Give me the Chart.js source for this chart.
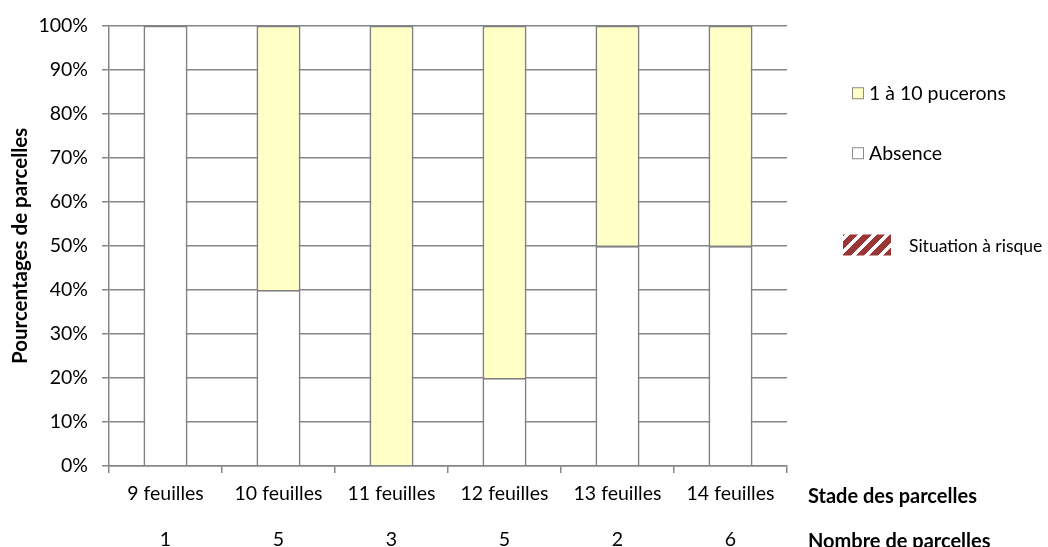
<!DOCTYPE html>
<html>
<head>
<meta charset="utf-8">
<script src="https://cdn.jsdelivr.net/npm/chart.js@4"></script>
<style>
  html, body { margin: 0; padding: 0; background: #fff; }
  #wrap { position: relative; width: 1048px; height: 547px; font-family: Lato, "Noto Sans", sans-serif; color: #000; }
  #wrap canvas { position: absolute; left: 0; top: 0; }
  .lab { position: absolute; white-space: nowrap; line-height: 1; transform: translateY(-50%); }
  .bold { font-weight: bold; font-size: 20px; }
  #legend { position: absolute; left: 0; top: 0; font-size: 19.5px; }
  #legend .item { position: absolute; white-space: nowrap; display: flex; align-items: center; transform: translateY(-50%); line-height: 1; }
  #legend .box { display: inline-block; width: 10px; height: 10px; border: 1px solid #8a8a8a; margin-right: 5px; }
  #legend .hatch { display: block; flex: none; width: 48px; height: 21px; margin-right: 18px; }
</style>
</head>
<body>
<div id="wrap">
  <canvas id="chart" width="1048" height="547"></canvas>
  <div class="lab bold" style="left:808px; top:495px;">Stade des parcelles</div>
  <div class="lab bold" style="left:808px; top:540px;">Nombre de parcelles</div>
  <div id="legend"></div>
</div>
<script>
// Données
const stades = ['9 feuilles', '10 feuilles', '11 feuilles', '12 feuilles', '13 feuilles', '14 feuilles'];
const nbParcelles = ['1', '5', '3', '5', '2', '6'];
const absence = [100, 40, 0, 20, 50, 50];
const pucerons = [0, 60, 100, 80, 50, 50];
const risque = [0, 0, 0, 0, 0, 0];
const yTicks = [0, 10, 20, 30, 40, 50, 60, 70, 80, 90, 100];

const gridColor = '#868686';
const hatchColor = '#9b3636';

// motif hachuré pour "Situation à risque"
function makeHatch() {
  const c = document.createElement('canvas');
  c.width = 12; c.height = 12;
  const g = c.getContext('2d');
  g.fillStyle = '#fff';
  g.fillRect(0, 0, 12, 12);
  g.strokeStyle = hatchColor;
  g.lineWidth = 6;
  g.beginPath();
  for (let k = -12; k <= 24; k += 12) {
    g.moveTo(k, 12); g.lineTo(k + 12, 0);
  }
  g.stroke();
  return g.createPattern(c, 'repeat');
}

const ctx = document.getElementById('chart').getContext('2d');
const chart = new Chart(ctx, {
  type: 'bar',
  data: {
    labels: stades.map((s, i) => [s, nbParcelles[i]]),
    datasets: [
      { label: 'Absence', data: absence, backgroundColor: '#ffffff', borderColor: '#808080', borderWidth: 1.8, order: 1 },
      { label: '1 à 10 pucerons', data: pucerons, backgroundColor: '#ffffc6', borderColor: '#808080', borderWidth: 1.8, order: 2 },
      { label: 'Situation à risque', data: risque, backgroundColor: makeHatch(), borderWidth: 0, order: 3 }
    ]
  },
  options: {
    responsive: false,
    animation: false,
    layout: { padding: { left: 8, right: 261, top: 18, bottom: 0 } },
    plugins: {
      legend: { display: false },
      tooltip: { enabled: false }
    },
    datasets: { bar: { categoryPercentage: 1, barPercentage: 0.39 } },
    scales: {
      x: {
        stacked: true,
        offset: true,
        grid: { drawOnChartArea: false, color: gridColor, tickLength: 7, lineWidth: 1.5 },
        border: { color: gridColor, width: 1.5 },
        ticks: { color: '#000', font: { family: 'Lato', size: 19.5, lineHeight: 2.35 }, padding: -2, maxRotation: 0, autoSkip: false },
        afterFit: s => { s.height = 547 - 466; }
      },
      y: {
        stacked: true,
        min: 0,
        max: 100,
        afterBuildTicks: s => { s.ticks = yTicks.map(v => ({ value: v })); },
        grid: { color: gridColor, tickLength: 7, lineWidth: 1.5 },
        border: { color: gridColor, width: 1.5 },
        ticks: { color: '#000', font: { family: 'Lato', size: 19.5 }, padding: 14, callback: v => v + '%' },
        title: { display: true, text: 'Pourcentages de parcelles', color: '#000', font: { family: 'Lato', size: 20.5, weight: 'bold' }, padding: 0 },
        afterFit: s => { s.width = 101; }
      }
    }
  }
});

// Légende personnalisée à partir des jeux de données
const legend = document.getElementById('legend');
const ds = chart.data.datasets;
const items = [
  { d: ds[1], top: 93, left: 852 },
  { d: ds[0], top: 153, left: 852 },
  { d: ds[2], top: 245, left: 843 }
];
legend.innerHTML = items.map(it => {
  if (it.d.label === 'Situation à risque') {
    return `<div class="item" style="top:${it.top}px; left:${it.left}px; font-size:17.5px;">
      <span class="hatch" style="background:repeating-linear-gradient(-45deg, ${hatchColor} 0 6px, #fff 6px 9.5px);"></span>${it.d.label}</div>`;
  }
  return `<div class="item" style="top:${it.top}px; left:${it.left}px;">
    <span class="box" style="background:${it.d.backgroundColor};"></span>${it.d.label}</div>`;
}).join('');
</script>
</body>
</html>
